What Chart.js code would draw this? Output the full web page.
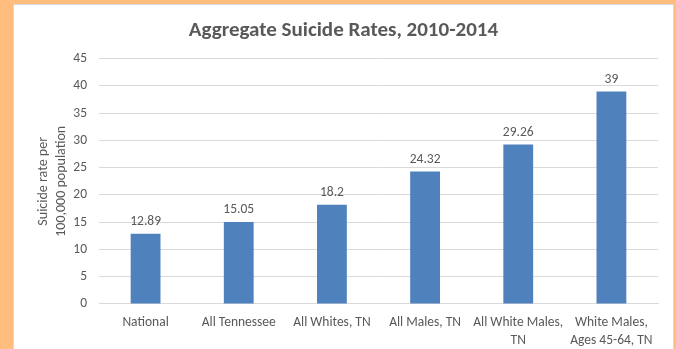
<!DOCTYPE html>
<html>
<head>
<meta charset="utf-8">
<script src="https://cdn.jsdelivr.net/npm/chart.js@4"></script>
<style>
  html, body { margin: 0; padding: 0; }
  body { width: 676px; height: 349px; background: #ffbe7e; position: relative; overflow: hidden; }
  #box {
    position: absolute; left: 13px; top: 4px; width: 659px; height: 362px;
    background: #fff; border: 1px solid #d9d9d9;
  }
  #box canvas { display: block; }
</style>
</head>
<body>
<div id="box"><canvas id="chart" width="659" height="357"></canvas></div>
<script>
// Aggregate suicide rates bar chart

const categories = [
    'National',
    'All Tennessee',
    'All Whites, TN',
    'All Males, TN',
    ['All White Males,', 'TN'],
    ['White Males,', 'Ages 45-64, TN']
];
const rates = [12.89, 15.05, 18.2, 24.32, 29.26, 39];
const rateLabels = ['12.89', '15.05', '18.2', '24.32', '29.26', '39'];

const FONT = 'Calibri, Carlito, Lato, sans-serif';
const GREY = '#595959';

// 棒の上に値を表示
const valueLabels = {
    id: 'valueLabels',
    afterDatasetsDraw(chart) {
        const ctx = chart.ctx;
        const meta = chart.getDatasetMeta(0);
        ctx.save();
        ctx.fillStyle = GREY;
        ctx.font = '13.5px ' + FONT;
        ctx.textAlign = 'center';
        ctx.textBaseline = 'alphabetic';
        meta.data.forEach((bar, i) => {
            ctx.fillText(rateLabels[i], bar.x, bar.y - 8.5);
        });
        ctx.restore();
    }
};

const ctx = document.getElementById('chart').getContext('2d');
new Chart(ctx, {
    type: 'bar',
    data: {
        labels: categories,
        datasets: [{
            data: rates,
            backgroundColor: '#4f81bd',
            borderWidth: 0,
            barPercentage: 0.32,
            categoryPercentage: 1
        }]
    },
    options: {
        animation: false,
        responsive: false,
        layout: { padding: { left: 15, right: 15, top: 0, bottom: 3 } },
        scales: {
            x: {
                grid: { display: false, drawTicks: false },
                border: { color: '#d9d9d9' },
                ticks: {
                    color: GREY, font: { family: FONT, size: 13.5, lineHeight: 1.3 },
                    padding: 10, maxRotation: 0, autoSkip: false
                }
            },
            y: {
                min: 0, max: 45,
                grid: { color: '#d9d9d9', drawTicks: false },
                border: { display: false },
                ticks: {
                    stepSize: 5, color: GREY, padding: 12,
                    font: { family: FONT, size: 13.5 }
                },
                title: {
                    display: true,
                    text: ['Suicide rate per', '100,000 population'],
                    color: GREY,
                    font: { family: FONT, size: 14, lineHeight: 1.3 },
                    padding: { top: 5, bottom: 0 }
                },
                afterFit(scale) { scale.width = 70; }
            }
        },
        plugins: {
            legend: { display: false },
            tooltip: { enabled: false },
            title: {
                display: true,
                text: 'Aggregate Suicide Rates, 2010-2014',
                color: GREY,
                font: { family: FONT, size: 21, weight: 'bold', lineHeight: 1.2 },
                padding: { top: 13, bottom: 15.5 }
            }
        }
    },
    plugins: [valueLabels]
});
</script>
</body>
</html>
